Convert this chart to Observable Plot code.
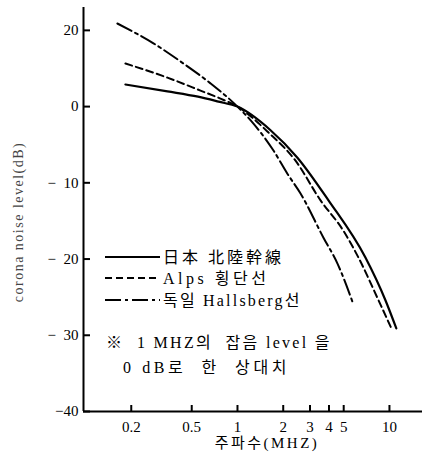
<!DOCTYPE html>
<html><head><meta charset="utf-8">
<script src="https://cdn.jsdelivr.net/npm/d3@7"></script>
<script src="https://cdn.jsdelivr.net/npm/@observablehq/plot@0.6"></script>
<style>body{margin:0;background:#fff}</style>
</head><body><div id="chart"></div>
<script>
const seriesNames = ["日本 北陸幹線", "Alps 횡단선", "독일 Hallsberg선"];

const japanFreq = [0.183, 0.346, 0.55, 0.75, 1, 1.65, 2.48, 3.97, 6.95, 9.41, 11.1];
const japanDb   = [5.8,   4.0,   2.6,  1.3,  0, -3.1, -6.7, -12.3, -19.8, -25.4, -29.1];

const alpsFreq = [0.183, 0.346, 0.571, 0.773, 1, 1.6, 2.41, 3.52, 4.98, 6.25, 8.47, 10.3];
const alpsDb   = [11.3,  7.6,   4.2,   2.1,   0, -3.4, -7.1, -12.3, -16.3, -19.8, -25.4, -29.1];

const germanyFreq = [0.162, 0.28, 0.441, 0.664, 1, 1.27, 1.73, 2.13, 2.6, 3.68, 4.55, 5.71];
const germanyDb   = [21.8,  16.6, 11.3,  6.1,   0, -2.2, -5.8, -8.8, -11.4, -17.2, -20.6, -25.6];

const xTicks = [0.2, 0.5, 1, 2, 3, 4, 5, 10];
const xTickLabels = ["0.2", "0.5", "1", "2", "3", "4", "5", "10"];
const yTicks = [20, 0, -10, -20, -30, -40];
const yTickLabels = ["20", "0", "−  10", "−  20", "−  30", "−40"];

const xTitle = "주파수(MHZ)";
const yTitle = "corona noise level(dB)";
const noteLines = ["※  1 MHZ의  잡음 level 을", "0 dB로  한  상대치"];

const FONT = '"Liberation Serif", "Noto Sans CJK KR", serif';
const dashes = ["none", "7,4", "16,4,3,4"];

const table = [];
[[japanFreq, japanDb], [alpsFreq, alpsDb], [germanyFreq, germanyDb]].forEach(([fs, ds], k) => {
  fs.forEach((f, i) => table.push({series: seriesNames[k], f, db: ds[i]}));
});

const xDomain = [0.097, 16.5];
const yBottom = -40, yTop = 26;
// the reference's y axis is compressed by half above 0 dB
const yWarp = v => (v > 0 ? v / 2 : v);

const chart = Plot.plot({
  width: 422, height: 460,
  marginLeft: 83, marginRight: 0, marginTop: 7, marginBottom: 49,
  style: {fontFamily: FONT, fontSize: "15px", color: "#000", background: "#fff"},
  x: {type: "log", domain: xDomain, axis: null},
  y: {type: "linear", transform: yWarp, domain: [yWarp(yBottom), yWarp(yTop)]},
  marks: [
    Plot.ruleX([xDomain[0]], {y1: yBottom, y2: yTop, strokeWidth: 2, stroke: "#000"}),
    Plot.ruleY([yBottom], {x1: xDomain[0], x2: xDomain[1], strokeWidth: 2, stroke: "#000"}),
    Plot.ruleX(xTicks, {x: d => d, y1: yBottom, y2: yBottom, insetTop: -6, strokeWidth: 2, stroke: "#000"}),
    Plot.ruleY(yTicks, {y: d => d, x1: xDomain[0], x2: xDomain[0], insetRight: -7, strokeWidth: 2, stroke: "#000"}),
    Plot.text(xTicks, {x: d => d, y: yBottom, text: (d, i) => xTickLabels[i], dy: 16, fontSize: 15, textAnchor: "middle"}),
    Plot.axisY(yTicks, {tickSize: 0, tickPadding: 5, tickFormat: d => yTickLabels[yTicks.indexOf(d)], label: null, fontSize: 15}),
    ...seriesNames.map((s, k) => Plot.line(table.filter(d => d.series === s), {
      x: "f", y: "db", curve: "monotone-x", stroke: "#000",
      strokeWidth: k === 0 ? 2.2 : 2, strokeDasharray: dashes[k]
    }))
  ]
});
document.getElementById("chart").appendChild(chart);

const svg = d3.select(chart);
const g = svg.append("g").attr("font-family", FONT).attr("fill", "#000").attr("text-anchor", "start");
// legend
const legendY = [257, 278, 300];
const legendSpacing = [3, 3.5, 2.2];
seriesNames.forEach((s, k) => {
  g.append("line").attr("x1", 105).attr("x2", 160).attr("y1", legendY[k]).attr("y2", legendY[k])
    .attr("stroke", "#000").attr("stroke-width", 2).attr("stroke-dasharray", dashes[k]);
  g.append("text").attr("x", 163).attr("y", legendY[k]).attr("dy", "0.35em")
    .attr("font-size", 16).attr("letter-spacing", legendSpacing[k] + "px").text(s);
});
// note
g.append("text").attr("x", 106).attr("y", 342).attr("dy", "0.35em").attr("font-size", 16)
  .attr("letter-spacing", "2.3px").text(noteLines[0]);
g.append("text").attr("x", 123).attr("y", 367).attr("dy", "0.35em").attr("font-size", 16)
  .attr("letter-spacing", "3.6px").text(noteLines[1]);
// axis titles
g.append("text").attr("x", 267).attr("y", 443).attr("dy", "0.35em").attr("text-anchor", "middle")
  .attr("font-size", 15).attr("letter-spacing", "2.5px").text(xTitle);
g.append("text").attr("transform", "translate(18,222) rotate(-90)").attr("dy", "0.35em")
  .attr("text-anchor", "middle").attr("font-size", 14).attr("letter-spacing", "1.5px")
  .attr("fill", "#444").text(yTitle);
</script>
</body></html>
